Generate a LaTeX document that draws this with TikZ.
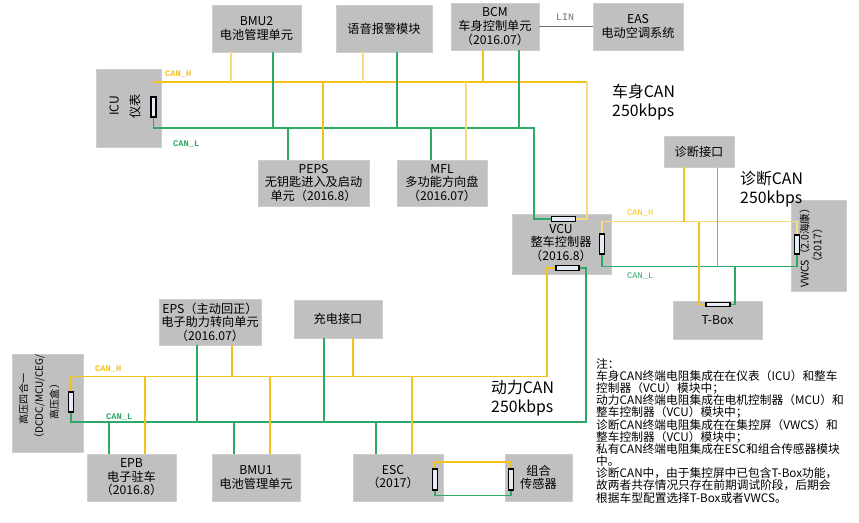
\documentclass[tikz,border=0pt]{standalone}
\usepackage{fontspec}
\setmainfont{Noto Sans CJK SC}
\newfontfamily\monofont{Liberation Mono}
\usetikzlibrary{calc}
\definecolor{boxgray}{HTML}{C0C0C0}
\definecolor{boxedge}{HTML}{CDCDCD}
\definecolor{canY}{HTML}{F5C21B}
\definecolor{canYl}{HTML}{F7DC7A}
\definecolor{canG}{HTML}{2EA866}
\definecolor{canGl}{HTML}{62C3A0}
\definecolor{linG}{HTML}{707070}
\definecolor{resfill}{HTML}{E6ECF5}
\newcommand\myNoteFont{\fontsize{10}{10.4}\selectfont\lineskiplimit=-20pt\relax\lineskip=0pt\relax}
\begin{document}
\begin{tikzpicture}[x=0.03cm,y=-0.03cm,
  box/.style={rectangle, fill=boxgray, draw=boxedge, line width=0.6pt, inner sep=0pt, align=center, font=\fontsize{10.4}{11.6}\selectfont},
  sz/.style 2 args={minimum width=#1*0.03cm, minimum height=#2*0.03cm},
  txt/.style={inner sep=0pt, align=center, font=\fontsize{10.4}{11.6}\selectfont},
  res/.style={rectangle, draw=black, fill=resfill, line width=1pt, inner sep=0pt},
  hres/.style={res, minimum width=24*0.03cm, minimum height=4.5*0.03cm},
  vres/.style={res, minimum width=5*0.03cm, minimum height=20*0.03cm},
  ch/.style={draw=canY, line width=1.1pt},
  chl/.style={draw=canYl, line width=0.9pt},
  cl/.style={draw=canG, line width=1.1pt},
  cll/.style={draw=canGl, line width=0.8pt},
  lab/.style={font=\monofont\bfseries\fontsize{7.4}{8}\selectfont, inner sep=0pt, anchor=west},
  labr/.style={font=\monofont\fontsize{7.4}{8}\selectfont, inner sep=0pt, anchor=west},
  big/.style={font=\fontsize{13.5}{16}\selectfont, align=left, inner sep=0pt, anchor=west},
]
\useasboundingbox (0,0) rectangle (859,522);

% ---------- boxes ----------
\node[box, sz={89}{47}] (BMU2) at (256.5,28.5) {BMU2\\电池管理单元};
\node[box, sz={96}{47}] (VOICE) at (384,28.5) {语音报警模块};
\node[box, sz={88}{47}] (BCM) at (495,26.5) {BCM\\车身控制单元\\（2016.07）};
\node[box, sz={90}{47}] (EAS) at (638,26.5) {EAS\\电动空调系统};
\node[box, sz={65}{78}] (ICU) at (128.5,108) {};
\node[txt, rotate=90, font=\fontsize{10.4}{18}\selectfont] (ICUt) at (125,106) {ICU\\仪表};
\node[box, sz={111}{46}] (PEPS) at (313.5,183) {PEPS\\无钥匙进入及启动\\单元（2016.8）};
\node[box, sz={90}{46}] (MFL) at (442,183) {MFL\\多功能方向盘\\（2016.07）};
\node[box, sz={99}{60}] (VCU) at (561.5,244) {};
\node[txt] (VCUt) at (561,243) {VCU\\整车控制器\\（2016.8）};
\node[box, sz={70}{31}] (DIAG) at (699,151.5) {诊断接口};
\node[box, sz={55}{91}] (VWCS) at (818.5,245.5) {};
\node[txt, rotate=90, font=\fontsize{9}{11}\selectfont] (VWCSt) at (811,245.5) {VWCS（2.0海康）\\（2017）};
\node[box, sz={89}{38}] (TBOX) at (717.5,320) {T-Box};
\node[box, sz={102}{46}] (EPS) at (210,322) {EPS（主动回正）\\电子助力转向单元\\（2016.07）};
\node[box, sz={88}{38}] (CHG) at (338,319) {充电接口};
\node[box, sz={71}{98}] (HV) at (47.5,403) {};
\node[txt, rotate=90, font=\fontsize{8.6}{13.2}\selectfont] (HVt) at (39,399) {高压四合一\\（DCDC/MCU/CEG/\\高压盒）};
\node[box, sz={89}{47}] (EPB) at (131.5,477.5) {EPB\\电子驻车\\（2016.8）};
\node[box, sz={88}{47}] (BMU1) at (256,477.5) {BMU1\\电池管理单元};
\node[box, sz={90}{47}] (ESC) at (398,477.5) {};
\node[txt] (ESCt) at (393,477) {ESC\\（2017）};
\node[box, sz={67}{47}] (SENS) at (538.5,477.5) {组合\\传感器};

% ---------- terminating resistors ----------
\node[vres] (rICU) at (153.5,107) {};
\node[hres] (rVCUt) at (563.5,219) {};
\node[vres] (rVCUr) at (602,244) {};
\node[hres, minimum width=23*0.03cm] (rVCUb) at (567.5,268) {};
\node[vres, minimum width=4.5*0.03cm, minimum height=19*0.03cm] (rVWCS) at (797,244.5) {};
\node[hres] (rTBOX) at (718,304.5) {};
\node[vres] (rHV) at (71,402) {};
\node[vres, minimum height=21*0.03cm] (rESC) at (435,479.5) {};
\node[vres, minimum width=4.5*0.03cm, minimum height=21*0.03cm] (rSENS) at (511,479.5) {};

% ---------- LIN ----------
\draw[linG, line width=0.8pt] (BCM.east) -- (EAS.west);
\node[labr, text=linG, font=\monofont\fontsize{8.5}{9}\selectfont] (LINl) at (556,17) {LIN};

% ---------- body CAN ----------
\coordinate (bHl) at (153.5,82);
\coordinate (bHr) at (587,82);
\coordinate (bLl) at (153.5,128);
\coordinate (bLr) at (534,128);
\draw[ch] (rICU.north) -- (bHl) -- (bHr);
\draw[chl] (bHr) |- (rVCUt.east);
\draw[cl] (rICU.south) -- (bLl) -- (bLr) |- (rVCUt.west);
% drops CAN_H
\coordinate (h1) at (231,82);  \draw[chl] (BMU2.south -| h1) -- (h1);
\coordinate (h2) at (363,82);  \draw[chl] (VOICE.south -| h2) -- (h2);
\coordinate (h3) at (483,82);  \draw[ch] (BCM.south -| h3) -- (h3);
\coordinate (h4) at (323,82);  \draw[ch] (h4) -- (PEPS.north -| h4);
\coordinate (h5) at (466,82);  \draw[chl] (h5) -- (MFL.north -| h5);
% drops CAN_L
\coordinate (l1) at (273,128); \draw[cl] (BMU2.south -| l1) -- (l1);
\coordinate (l2) at (397,128); \draw[cl] (VOICE.south -| l2) -- (l2);
\coordinate (l3) at (519,128); \draw[cl] (BCM.south -| l3) -- (l3);
\coordinate (l4) at (288,128); \draw[cl] (l4) -- (PEPS.north -| l4);
\coordinate (l5) at (431,128); \draw[cl] (l5) -- (MFL.north -| l5);
\node[lab, text=canY] (bHlab) at (165,74) {CAN\_H};
\node[lab, text=canG] (bLlab) at (173,144) {CAN\_L};
\node[big] (bodyl) at (612,102) {车身CAN\\250kbps};

% ---------- diagnostic CAN ----------
\coordinate (dHl) at (602,221.5);
\coordinate (dHr) at (797,221.5);
\coordinate (dLl) at (602,266.7);
\coordinate (dLr) at (797,266.7);
\draw[chl] (rVCUr.north) -- (dHl) -- (dHr) -- (rVWCS.north);
\draw[cl] (rVCUr.south) -- (dLl) -- (dLr) -- (rVWCS.south);
\coordinate (dh1) at (684,221.5); \draw[ch] (DIAG.south -| dh1) -- (dh1);
\coordinate (dl1) at (717,266.7); \draw[cll] (DIAG.south -| dl1) -- (dl1);
\coordinate (dh2) at (699,221.5); \draw[ch] (dh2) |- (rTBOX.west);
\coordinate (dl2) at (735,266.7); \draw[cl] (dl2) |- (rTBOX.east);
\node[labr, text=canY] (dHlab) at (627,213) {CAN\_H};
\node[labr, text=canG] (dLlab) at (627,276) {CAN\_L};
\node[big] (diagl) at (740,189) {诊断CAN\\250kbps};

% ---------- power CAN ----------
\coordinate (pHl) at (71,376.5);
\coordinate (pHr) at (547,376.5);
\coordinate (pLl) at (71,422);
\coordinate (pLr) at (586,422);
\draw[ch] (rHV.north) -- (pHl) -- (pHr) |- (rVCUb.west);
\draw[cl] (rHV.south) -- (pLl) -- (pLr) |- (rVCUb.east);
\coordinate (ph1) at (145,376.5); \draw[ch] (ph1) -- (EPB.north -| ph1);
\coordinate (pl1) at (109,422);   \draw[cl] (pl1) -- (EPB.north -| pl1);
\coordinate (ph2) at (232,376.5); \draw[ch] (EPS.south -| ph2) -- (ph2);
\coordinate (pl2) at (197,422);   \draw[cl] (EPS.south -| pl2) -- (pl2);
\coordinate (ph3) at (270,376.5); \draw[ch] (ph3) -- (BMU1.north -| ph3);
\coordinate (pl3) at (234,422);   \draw[cl] (pl3) -- (BMU1.north -| pl3);
\coordinate (ph4) at (353,376.5); \draw[ch] (CHG.south -| ph4) -- (ph4);
\coordinate (pl4) at (324,422);   \draw[cl] (CHG.south -| pl4) -- (pl4);
\coordinate (ph5) at (412,376.5); \draw[ch] (ph5) -- (ESC.north -| ph5);
\coordinate (pl5) at (376,422);   \draw[cl] (pl5) -- (ESC.north -| pl5);
\node[lab, text=canY] (pHlab) at (95,369) {CAN\_H};
\node[lab, text=canG] (pLlab) at (106,417) {CAN\_L};
\node[big] (powl) at (491,398) {动力CAN\\250kbps};

% ---------- private CAN ----------
\draw[ch] (rESC.north) -- ++(0,-6.3) -| (rSENS.north);
\draw[cl] (rESC.south) -- ++(0,4.7) -| (rSENS.south);

% ---------- notes ----------
\node[inner sep=0pt, anchor=north west, align=left, font=\myNoteFont] (notes) at (596,358) {注：\\
车身CAN终端电阻集成在在仪表（ICU）和整车\\
控制器（VCU）模块中；\\
动力CAN终端电阻集成在电机控制器（MCU）和\\
整车控制器（VCU）模块中；\\
诊断CAN终端电阻集成在在集控屏（VWCS）和\\
整车控制器（VCU）模块中；\\
私有CAN终端电阻集成在ESC和组合传感器模块\\
中。\\
诊断CAN中，由于集控屏中已包含T-Box功能，\\
故两者共存情况只存在前期调试阶段，后期会\\
根据车型配置选择T-Box或者VWCS。};
\end{tikzpicture}
\end{document}
